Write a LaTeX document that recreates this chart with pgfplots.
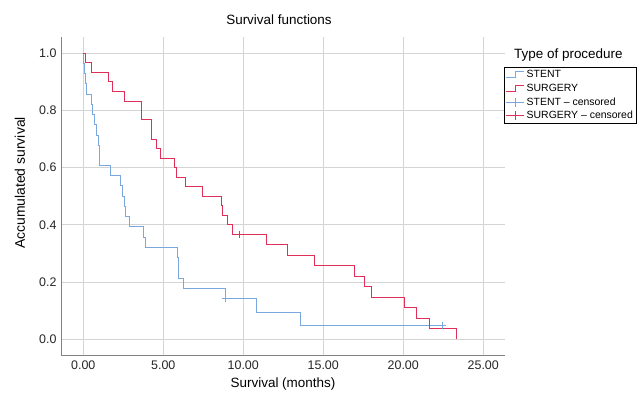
\documentclass[border=0pt]{standalone}
\usepackage{fontspec}
\setmainfont{Liberation Sans}
\usepackage{pgfplots}
\pgfplotsset{compat=1.18}
\definecolor{stent}{RGB}{122,168,222}
\definecolor{surg}{RGB}{224,48,90}
\definecolor{gridc}{RGB}{212,212,212}
\definecolor{axc}{RGB}{130,130,130}
\begin{document}
\begin{tikzpicture}[x=1bp,y=1bp]
\useasboundingbox (0,0) rectangle (640,395);
\begin{axis}[
  at={(61bp,40bp)}, anchor=south west,
  width=444bp, height=318bp, scale only axis,
  xmin=-1.39, xmax=26.36, ymin=-0.055, ymax=1.057,
  axis lines*=left,
  axis line style={axc, line width=0.8bp},
  xtick={0,5,10,15,20,25},
  ytick={0,0.2,0.4,0.6,0.8,1.0},
  xticklabels={0.00,5.00,10.00,15.00,20.00,25.00},
  yticklabels={0.0,0.2,0.4,0.6,0.8,1.0},
  major tick length=0pt,
  grid=major,
  major grid style={gridc, line width=1.1bp},
  tick label style={font=\fontsize{12.5}{14}\selectfont, text=black!85},
  xticklabel style={yshift=-2bp},
  yticklabel style={xshift=-1bp},
  /pgf/number format/assume math mode=true,
  legend style={at={(0.998,0.9055)}, anchor=north west, draw=black, line width=0.7bp,
    font=\fontsize{10.5}{11}\selectfont, inner sep=1.2bp, row sep=0.7bp,
    cells={anchor=west}, legend cell align=left},
  legend image code/.code={\draw[#1] (0bp,-3bp) -- (9bp,-3bp) -- (9bp,3bp) -- (18bp,3bp);},
]
\addplot[const plot, stent, line width=1bp] coordinates {
(0,1.0) (0.03,0.964) (0.08,0.929) (0.13,0.893) (0.22,0.857) (0.49,0.821) (0.60,0.786)
(0.71,0.750) (0.85,0.714) (0.95,0.679) (0.99,0.607) (1.71,0.571) (2.33,0.536)
(2.45,0.500) (2.55,0.464) (2.67,0.429) (2.92,0.393) (3.75,0.357) (3.92,0.321)
(5.87,0.286) (5.95,0.214) (6.25,0.179) (8.86,0.143) (10.85,0.095) (13.56,0.048)
(22.46,0.048)};
\addlegendentry{STENT}
\addplot[const plot, surg, line width=1bp] coordinates {
(0,1.0) (0.17,0.967) (0.52,0.933) (1.58,0.900) (1.85,0.867) (2.58,0.833) (3.65,0.767)
(4.27,0.700) (4.58,0.667) (4.83,0.633) (5.73,0.600) (5.83,0.567) (6.42,0.533)
(7.44,0.500) (8.63,0.467) (8.68,0.433) (9.02,0.400) (9.35,0.367) (11.46,0.330)
(12.79,0.293) (14.44,0.257) (16.96,0.220) (17.58,0.183) (18.00,0.147)
(20.06,0.110) (20.83,0.073) (21.67,0.037) (23.33,0.0)};
\addlegendentry{SURGERY}
\addplot[only marks, mark=+, mark size=3.5bp, stent, mark options={line width=1bp},
  legend image code/.code={\draw[stent, line width=1bp] (0bp,0bp) -- (18bp,0bp); \draw[stent, line width=1bp] (9bp,-4.5bp) -- (9bp,4.5bp);}]
  coordinates {(8.86,0.143) (22.46,0.048)};
\addlegendentry{STENT -- censored}
\addplot[only marks, mark=+, mark size=3.5bp, surg, mark options={line width=1bp},
  legend image code/.code={\draw[surg, line width=1bp] (0bp,0bp) -- (18bp,0bp); \draw[surg, line width=1bp] (9bp,-4.5bp) -- (9bp,4.5bp);}]
  coordinates {(9.75,0.367)};
\addlegendentry{SURGERY -- censored}
\end{axis}
\node[font=\fontsize{13.5}{15}\selectfont] at (279,375) {Survival functions};
\node[font=\fontsize{13.5}{15}\selectfont] at (283,11) {Survival (months)};
\node[font=\fontsize{14}{15}\selectfont, rotate=90] at (20,212) {Accumulated survival};
\node[font=\fontsize{13.5}{15}\selectfont, anchor=west, inner sep=0pt] at (514,340) {Type of procedure};
\end{tikzpicture}
\end{document}
